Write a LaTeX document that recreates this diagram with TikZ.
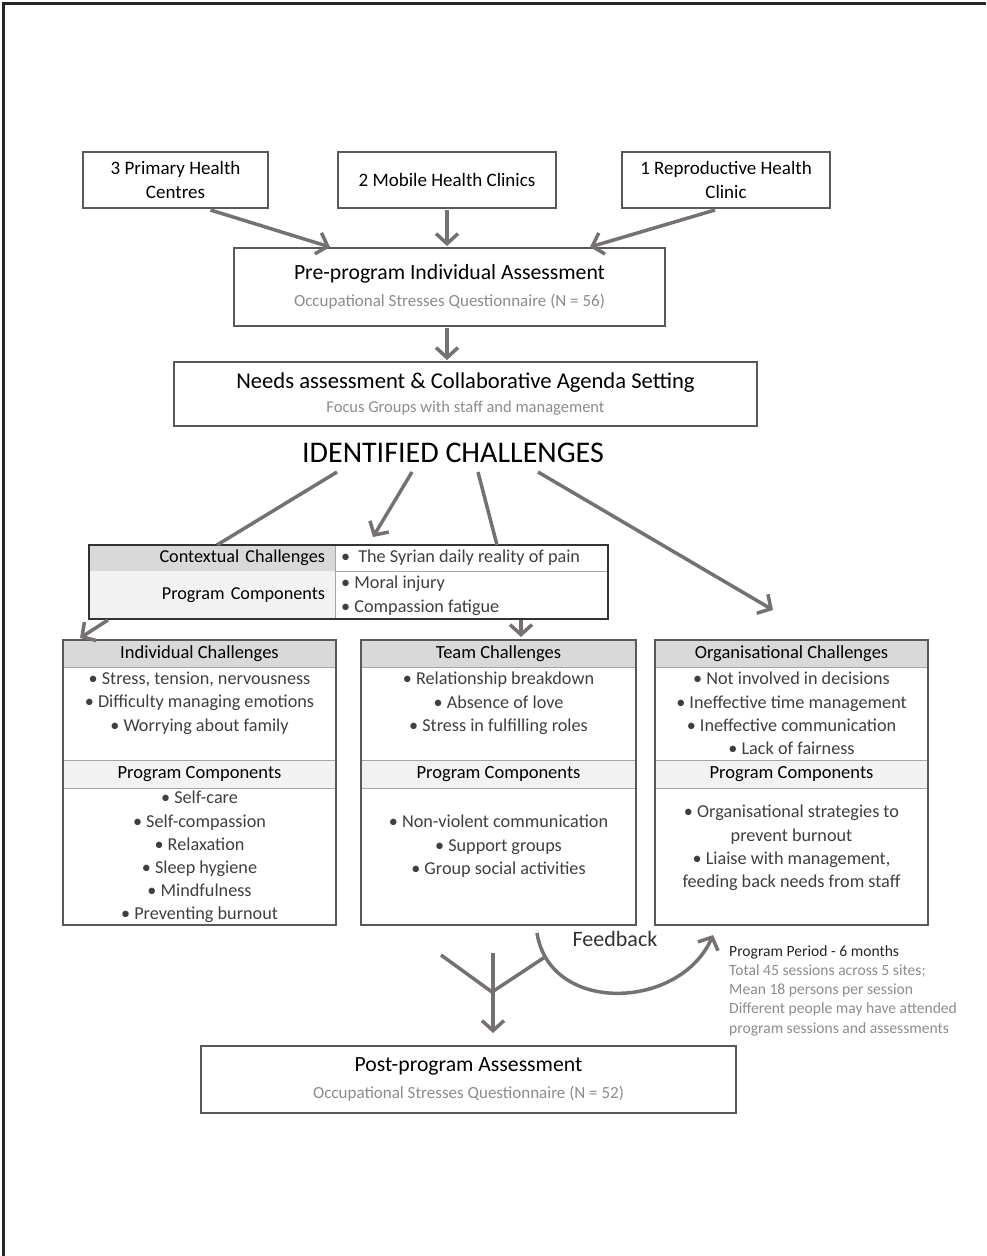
\documentclass[tikz,border=0pt]{standalone}
\usepackage{fontspec}
\setmainfont{Carlito}
\usetikzlibrary{arrows.meta,positioning}

\definecolor{arrowgray}{HTML}{767171}
\definecolor{edgegray}{HTML}{595959}
\definecolor{sepgray}{HTML}{A6A6A6}
\definecolor{headgray}{HTML}{D9D9D9}
\definecolor{palegray}{HTML}{F2F2F2}
\definecolor{subgray}{HTML}{8C8C8C}
\definecolor{itemgray}{HTML}{3F3F3F}

\newcommand{\fsz}[2]{\fontsize{#1}{#2}\selectfont}

\tikzset{
  box/.style={draw=edgegray, line width=1.4pt, fill=white, align=center, inner sep=0pt, outer sep=0pt},
  cell/.style={draw=sepgray, line width=1pt, inner sep=0pt, outer sep=0pt, minimum height=#1},
  hd/.style={cell=27pt, fill=headgray, font=\fsz{18.5}{22}},
  pchd/.style={cell=28pt, fill=palegray, font=\fsz{18.5}{22}},
  frame/.style={draw=edgegray, line width=1.4pt},
  items/.style={inner sep=0pt, align=center, text=itemgray, font=\fsz{18.2}{23.2}},
  arr/.style={draw=arrowgray, line width=3.5pt, line join=round, -{Straight Barb[length=10pt, width=22pt]}},
  link/.style={draw=arrowgray, line width=3.5pt, line join=round},
}

\begin{document}
\begin{tikzpicture}[x=1pt, y=-1pt, font=\fsz{19}{24}]
\useasboundingbox (0,0) rectangle (986,1256);
% page frame
\draw[line width=3pt, draw=black!85] (3,1256) -- (3,3) -- (986,3);

% sites
\node[box, minimum width=185pt, minimum height=56pt] (prim) at (175.5,180) {3 Primary Health\\Centres};
\node[box, minimum width=218pt, minimum height=56pt] (mobile) at (447,180) {2 Mobile Health Clinics};
\node[box, minimum width=208pt, minimum height=56pt] (repro) at (726,180) {1 Reproductive Health\\Clinic};

% pre assessment and needs
\node[box, minimum width=431pt, minimum height=78pt, font=\fsz{17}{27}] (pre) at (449.5,287)
  {{\fsz{21.7}{27}Pre-program Individual Assessment}\\\textcolor{subgray}{Occupational Stresses Questionnaire (N = 56)}};
\node[box, minimum width=583pt, minimum height=64pt, font=\fsz{16.5}{24}] (needs) at (465.5,394)
  {{\fsz{22.6}{24}Needs assessment \& Collaborative Agenda Setting}\\\textcolor{subgray}{Focus Groups with staff and management}};
\node[font=\fsz{30}{36}, inner sep=0pt] (ident) at (453,453) {IDENTIFIED CHALLENGES};

% contextual table
\node[cell=26pt, draw=none, fill=headgray, minimum width=246pt, text width=226pt, align=right, font=\fsz{18.2}{22}] (ctxhd) at (212,558) {Contextual Challenges};
\node[cell=48pt, draw=none, fill=palegray, minimum width=246pt, text width=226pt, align=right, font=\fsz{18.2}{22}, below=0pt of ctxhd] (ctxpc) {Program Components};
\node[cell=26pt, minimum width=273pt, right=0pt of ctxhd] (ctxch) {};
\node[cell=48pt, minimum width=273pt, right=0pt of ctxpc] (ctxcp) {};
\node[items, right=6pt of ctxch.west] (ctxchtx) {\textbullet\hspace{8pt}The Syrian daily reality of pain};
\node[items, align=left, below right=5pt and 6pt of ctxcp.north west] (ctxcptx) {\textbullet{} Moral injury\\\textbullet{} Compassion fatigue};
\draw[frame, draw=black!80, line width=1.6pt] (ctxhd.north west) rectangle (ctxcp.south east);

% individual column
\node[hd, minimum width=273pt] (indhd) at (199.5,653.5) {Individual Challenges};
\node[cell=93pt, minimum width=273pt, below=0pt of indhd] (indch) {};
\node[pchd, minimum width=273pt, below=0pt of indch] (indpchd) {Program Components};
\node[cell=137pt, minimum width=273pt, below=0pt of indpchd] (indpc) {};
\draw[frame] (indhd.north west) rectangle (indpc.south east);
\node[items, below=5pt of indch.north] (indchtx) {\textbullet{} Stress, tension, nervousness\\\textbullet{} Difficulty managing emotions\\\textbullet{} Worrying about family};
\node[items, below=3pt of indpc.north] (indpctx) {\textbullet{} Self-care\\\textbullet{} Self-compassion\\\textbullet{} Relaxation\\\textbullet{} Sleep hygiene\\\textbullet{} Mindfulness\\\textbullet{} Preventing burnout};

% team column
\node[hd, minimum width=275pt] (teamhd) at (498.5,653.5) {Team Challenges};
\node[cell=93pt, minimum width=275pt, below=0pt of teamhd] (teamch) {};
\node[pchd, minimum width=275pt, below=0pt of teamch] (teampchd) {Program Components};
\node[cell=137pt, minimum width=275pt, below=0pt of teampchd] (teampc) {};
\draw[frame] (teamhd.north west) rectangle (teampc.south east);
\node[items, below=5pt of teamch.north] (teamchtx) {\textbullet{} Relationship breakdown\\\textbullet{} Absence of love\\\textbullet{} Stress in fulfilling roles};
\node[items, below=27pt of teampc.north] (teampctx) {\textbullet{} Non-violent communication\\\textbullet{} Support groups\\\textbullet{} Group social activities};

% organisational column
\node[hd, minimum width=273pt] (orghd) at (791.5,653.5) {Organisational Challenges};
\node[cell=93pt, minimum width=273pt, below=0pt of orghd] (orgch) {};
\node[pchd, minimum width=273pt, below=0pt of orgch] (orgpchd) {Program Components};
\node[cell=137pt, minimum width=273pt, below=0pt of orgpchd] (orgpc) {};
\draw[frame] (orghd.north west) rectangle (orgpc.south east);
\node[items, below=5pt of orgch.north] (orgchtx) {\textbullet{} Not involved in decisions\\\textbullet{} Ineffective time management\\\textbullet{} Ineffective communication\\\textbullet{} Lack of fairness};
\node[items, below=17pt of orgpc.north] (orgpctx) {\textbullet{} Organisational strategies to\\prevent burnout\\\textbullet{} Liaise with management,\\feeding back needs from staff};

% program period note
\node[anchor=north west, inner sep=0pt, align=left, font=\fsz{15.6}{19.3}, text=subgray] (period) at (729,945)
  {\textcolor{black!85}{Program Period - 6 months}\\Total 45 sessions across 5 sites;\\Mean 18 persons per session\\Different people may have attended\\program sessions and assessments};

% post assessment
\node[box, minimum width=535pt, minimum height=67pt, font=\fsz{17}{27}] (post) at (468.5,1079.5)
  {{\fsz{21.7}{27}Post-program Assessment}\\\textcolor{subgray}{Occupational Stresses Questionnaire (N = 52)}};

% arrows into the assessments
\draw[arr] ([xshift=35pt,yshift=-2pt]prim.south) -- ([xshift=96pt,yshift=1pt]pre.north west);
\draw[arr] ([yshift=-2pt]mobile.south) -- ([yshift=2pt]pre.north -| mobile.south);
\draw[arr] ([xshift=-11pt,yshift=-2pt]repro.south) -- ([xshift=-75pt,yshift=1pt]pre.north east);
\draw[arr] ([xshift=-2.5pt,yshift=-2pt]pre.south) -- ([xshift=-18.5pt,yshift=2pt]needs.north);

% challenges fan out
\draw[link] ([xshift=-116pt,yshift=-19pt]ident.center) -- ([xshift=5pt]ctxhd.north);
\draw[arr] ([xshift=-41pt,yshift=-19pt]ident.center) -- ([xshift=-98.5pt,yshift=8pt]ctxch.north);
\draw[link] ([xshift=25pt,yshift=-19pt]ident.center) -- ([xshift=25.5pt]ctxch.north);
\draw[arr] ([xshift=85pt,yshift=-19pt]ident.center) -- ([xshift=-18.5pt,yshift=30pt]orghd.north);
\draw[arr] ([xshift=19pt,yshift=-1pt]ctxpc.south west) -- ([xshift=17pt,yshift=2pt]indhd.north west);
\draw[arr] ([xshift=49.5pt,yshift=-1pt]ctxcp.south) -- ([xshift=22.5pt,yshift=3pt]teamhd.north);

% feedback loop
\coordinate (fbout) at ([xshift=38.5pt,yshift=-8pt]teampc.south);
\coordinate (fbin) at ([xshift=58pt,yshift=-10pt]orgpc.south west);
\draw[arr] (fbout) .. controls (550,1015) and (680,1010) .. (fbin);
\node[font=\fsz{22}{24}, text=black!80, inner sep=0pt] (fbtext) at (615,939) {Feedback};

% merge into post assessment
\coordinate (yleft) at (441,955);
\coordinate (yjoin) at (492,992);
\coordinate (yright) at (545,957);
\draw[link] (yleft) -- (yjoin) -- (yright);
\draw[arr] ([xshift=24.5pt,yshift=93pt]post.north) -- ([xshift=24.5pt,yshift=13pt]post.north);
\end{tikzpicture}
\end{document}
